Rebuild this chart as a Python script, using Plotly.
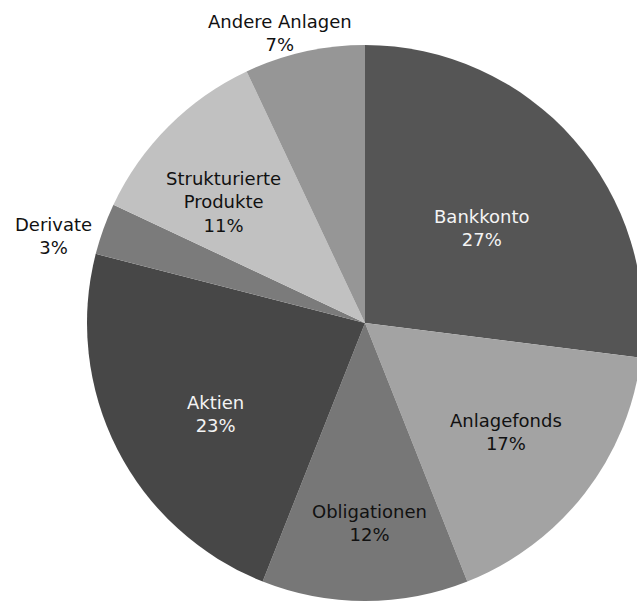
import math
import plotly.graph_objects as go

# Portfolio breakdown by asset class (percent)
categories = ["Bankkonto", "Anlagefonds", "Obligationen", "Aktien",
              "Derivate", "Strukturierte<br>Produkte", "Andere Anlagen"]
shares = [27, 17, 12, 23, 3, 11, 7]

slice_colors = ["#555555", "#a3a3a3", "#777777", "#474747",
                "#7b7b7b", "#c1c1c1", "#969696"]
label_colors = ["#f4f4f4", "#111111", "#111111", "#f4f4f4",
                "#111111", "#111111", "#111111"]
# radial distance of each label (fraction of radius) and angular nudge (deg)
label_radius = [0.54, 0.64, 0.72, 0.63, 1.165, 0.67, 1.087]
label_turn = [2.3, 0, -1.4, -4.4, -4.2, -4.6, -3.7]

fig = go.Figure(go.Pie(
    labels=categories,
    values=shares,
    sort=False,
    direction="clockwise",
    rotation=0,
    marker=dict(colors=slice_colors, line=dict(width=0)),
    textinfo="none",
    hoverinfo="label+percent",
    showlegend=False,
    domain=dict(x=[0, 1], y=[0, 1]),
))

total = sum(shares)
cum = 0
annotations = []
for name, v, col, rf, turn in zip(categories, shares, label_colors,
                                  label_radius, label_turn):
    mid = (cum + v / 2) / total * 360 + turn
    cum += v
    a = math.radians(mid)
    annotations.append(dict(
        x=0.5 + 0.5 * rf * math.sin(a),
        y=0.5 + 0.5 * rf * math.cos(a),
        xref="paper", yref="paper",
        text=f"{name}<br>{round(v / total * 100)}%",
        showarrow=False,
        xanchor="center", yanchor="middle",
        font=dict(family="DejaVu Sans", size=18, color=col),
    ))

fig.update_layout(
    width=643, height=606,
    margin=dict(l=87, r=0, t=45, b=5),
    paper_bgcolor="white",
    plot_bgcolor="white",
    annotations=annotations,
)

fig.write_html("out.html",
               post_script="document.body.style.overflow='hidden';document.body.style.margin='0';")
